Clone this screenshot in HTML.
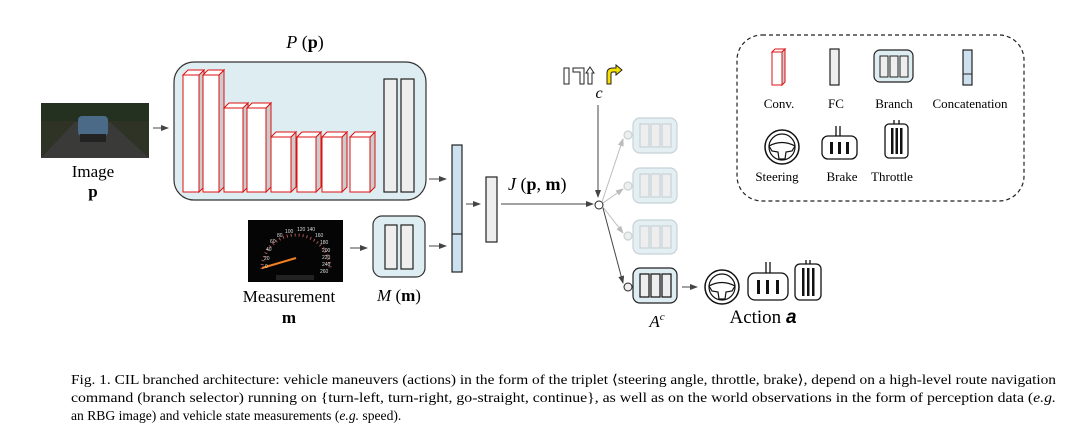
<!DOCTYPE html>
<html><head><meta charset="utf-8"><style>
html,body{margin:0;padding:0;background:#fff;}
svg{display:block;font-family:"Liberation Serif",serif;}
</style></head><body>
<svg width="1086" height="434" viewBox="0 0 1086 434" xmlns="http://www.w3.org/2000/svg">
<defs>
<marker id="ar" markerWidth="8" markerHeight="6" refX="7" refY="3" orient="auto" markerUnits="userSpaceOnUse"><path d="M0,0 L8,3 L0,6 z" fill="#444"/></marker>
<marker id="arg" markerWidth="8" markerHeight="6" refX="7" refY="3" orient="auto" markerUnits="userSpaceOnUse"><path d="M0,0 L8,3 L0,6 z" fill="#bbb"/></marker>
<g id="wheel"><circle r="17" fill="#fff" stroke="#111" stroke-width="1.5"/><circle r="13" fill="none" stroke="#111" stroke-width="1.2"/><path d="M-13,-1 Q0,-8 13,-1 L10,4 L4,5 L3,12 L-3,12 L-4,5 L-10,4 Z" fill="none" stroke="#111" stroke-width="1.2"/></g>
</defs>

<!-- Image -->
<rect x="41" y="103" width="108" height="55" fill="#2e3326"/>
<rect x="41" y="103" width="108" height="18" fill="#243020"/>
<polygon points="41,158 75,122 110,122 149,158" fill="#3a3a38"/>
<rect x="78" y="116" width="30" height="20" rx="4" fill="#4a6a88"/>
<rect x="80" y="134" width="26" height="8" fill="#222"/>
<text x="93" y="177" font-size="17" text-anchor="middle">Image</text>
<text x="93" y="197" font-size="17" font-weight="bold" text-anchor="middle">p</text>
<line x1="153" y1="128" x2="168" y2="128" stroke="#444" marker-end="url(#ar)"/>

<!-- P box -->
<text x="305" y="48" font-size="18" text-anchor="middle"><tspan font-style="italic">P</tspan> (<tspan font-weight="bold">p</tspan>)</text>
<rect x="174" y="62" width="252" height="138" rx="20" fill="#deedf2" stroke="#333" stroke-width="1.2"/>
<g stroke="#d11" stroke-width="1" fill="#fff">
<polygon points="199,75 204,70 204,187 199,192" fill="#ccc"/><polygon points="183,75 188,70 204,70 199,75"/><rect x="183" y="75" width="16" height="117"/>
<polygon points="219,75 224,70 224,187 219,192" fill="#ccc"/><polygon points="203,75 208,70 224,70 219,75"/><rect x="203" y="75" width="16" height="117"/>
<polygon points="243,108 248,103 248,187 243,192" fill="#ccc"/><polygon points="224,108 229,103 248,103 243,108"/><rect x="224" y="108" width="19" height="84"/>
<polygon points="266,108 271,103 271,187 266,192" fill="#ccc"/><polygon points="247,108 252,103 271,103 266,108"/><rect x="247" y="108" width="19" height="84"/>
<polygon points="291,137 296,132 296,187 291,192" fill="#ccc"/><polygon points="271,137 276,132 296,132 291,137"/><rect x="271" y="137" width="20" height="55"/>
<polygon points="316,137 321,132 321,187 316,192" fill="#ccc"/><polygon points="297,137 302,132 321,132 316,137"/><rect x="297" y="137" width="19" height="55"/>
<polygon points="342,137 347,132 347,187 342,192" fill="#ccc"/><polygon points="322,137 327,132 347,132 342,137"/><rect x="322" y="137" width="20" height="55"/>
<polygon points="370,137 375,132 375,187 370,192" fill="#ccc"/><polygon points="350,137 355,132 375,132 370,137"/><rect x="350" y="137" width="20" height="55"/>
</g>
<rect x="384" y="79" width="13" height="113" fill="#eee" stroke="#222" stroke-width="1.2"/>
<rect x="401" y="79" width="13" height="113" fill="#eee" stroke="#222" stroke-width="1.2"/>
<line x1="429" y1="179" x2="446" y2="179" stroke="#444" marker-end="url(#ar)"/>

<!-- Measurement -->
<rect x="248" y="220" width="95" height="62" fill="#050505"/>
<path d="M262,269 A34,34 0 1 1 330,269" fill="none" stroke="#a55" stroke-width="3" stroke-dasharray="1 3"/>
<line x1="262" y1="268" x2="296" y2="258" stroke="#f08020" stroke-width="2"/>
<g font-size="5" fill="#ddd" font-family="Liberation Sans,sans-serif"><text x="265" y="268">0</text><text x="264" y="260">20</text><text x="266" y="251">40</text><text x="270" y="243">60</text><text x="277" y="237">80</text><text x="285" y="233">100</text><text x="297" y="231">120 140</text><text x="315" y="237">160</text><text x="320" y="244">180</text><text x="322" y="252">200</text><text x="322" y="259">220</text><text x="322" y="266">240</text><text x="320" y="273">260</text></g>
<rect x="276" y="275" width="38" height="5" fill="#222"/>
<text x="289" y="302" font-size="17" text-anchor="middle">Measurement</text>
<text x="289" y="323" font-size="17" font-weight="bold" text-anchor="middle">m</text>
<line x1="350" y1="248" x2="367" y2="248" stroke="#444" marker-end="url(#ar)"/>
<rect x="373" y="216" width="52" height="61" rx="9" fill="#deedf2" stroke="#333" stroke-width="1.2"/>
<rect x="385" y="225" width="12" height="44" fill="#eee" stroke="#222" stroke-width="1.2"/>
<rect x="401" y="225" width="12" height="44" fill="#eee" stroke="#222" stroke-width="1.2"/>
<text x="399" y="301" font-size="17" text-anchor="middle"><tspan font-style="italic">M</tspan> (<tspan font-weight="bold">m</tspan>)</text>
<line x1="429" y1="246" x2="446" y2="246" stroke="#444" marker-end="url(#ar)"/>

<!-- concat -->
<rect x="452" y="145" width="10" height="127" fill="#cde0f0" stroke="#222" stroke-width="1.2"/>
<line x1="452" y1="234" x2="462" y2="234" stroke="#222" stroke-width="1.2"/>
<line x1="466" y1="204" x2="480" y2="204" stroke="#444" marker-end="url(#ar)"/>
<rect x="486" y="177" width="11" height="65" fill="#eee" stroke="#222" stroke-width="1.2"/>
<text x="508" y="190" font-size="18"><tspan font-style="italic">J</tspan> (<tspan font-weight="bold">p</tspan>, <tspan font-weight="bold">m</tspan>)</text>
<line x1="501" y1="204" x2="593" y2="204" stroke="#444" marker-end="url(#ar)"/>

<!-- command icons -->
<rect x="564" y="68" width="5" height="16" fill="#fff" stroke="#222"/>
<path d="M573,72 L580,72 L580,84 L584,84 L584,68 L573,68 Z" fill="#fff" stroke="#222"/>
<path d="M588,84 L588,73 L586,73 L590,67 L594,73 L592,73 L592,84 Z" fill="#fff" stroke="#222"/>
<path d="M607,84 L607,73 Q607,68 613,68 L616,68 L616,65 L622,70 L616,75 L616,72 L613,72 Q611,72 611,74 L611,84 Z" fill="#f5e000" stroke="#222"/>
<text x="599" y="98" font-size="16" font-style="italic" text-anchor="middle">c</text>
<line x1="598" y1="105" x2="598" y2="197" stroke="#444" marker-end="url(#ar)"/>
<circle cx="599" cy="205" r="4" fill="#fff" stroke="#222"/>

<!-- faded branches -->
<g stroke="#bbb" fill="none">
<line x1="602" y1="202" x2="623" y2="139" marker-end="url(#arg)"/>
<line x1="603" y1="203" x2="623" y2="189" marker-end="url(#arg)"/>
<line x1="603" y1="207" x2="623" y2="233" marker-end="url(#arg)"/>
</g>
<g stroke="#c8d2d6" stroke-width="1.2">
<rect x="633" y="118" width="44" height="35" rx="7" fill="#e4eff3"/>
<rect x="640" y="124" width="9" height="23" fill="#eee"/><rect x="651" y="124" width="9" height="23" fill="#eee"/><rect x="662" y="124" width="9" height="23" fill="#eee"/>
<rect x="633" y="168" width="44" height="35" rx="7" fill="#e4eff3"/>
<rect x="640" y="174" width="9" height="23" fill="#eee"/><rect x="651" y="174" width="9" height="23" fill="#eee"/><rect x="662" y="174" width="9" height="23" fill="#eee"/>
<rect x="633" y="220" width="44" height="34" rx="7" fill="#e4eff3"/>
<rect x="640" y="226" width="9" height="22" fill="#eee"/><rect x="651" y="226" width="9" height="22" fill="#eee"/><rect x="662" y="226" width="9" height="22" fill="#eee"/>
<circle cx="628" cy="135" r="4" fill="#eee"/><circle cx="628" cy="186" r="4" fill="#eee"/><circle cx="628" cy="236" r="4" fill="#eee"/>
</g>
<line x1="603" y1="208" x2="623" y2="283" stroke="#444" marker-end="url(#ar)"/>
<rect x="633" y="268" width="44" height="35" rx="7" fill="#deedf2" stroke="#222" stroke-width="1.2"/>
<rect x="640" y="274" width="9" height="23" fill="#eee" stroke="#111" stroke-width="1.2"/><rect x="651" y="274" width="9" height="23" fill="#eee" stroke="#111" stroke-width="1.2"/><rect x="662" y="274" width="9" height="23" fill="#eee" stroke="#111" stroke-width="1.2"/>
<circle cx="628" cy="287" r="4" fill="#eee" stroke="#222"/>
<text x="657" y="327" font-size="17" font-style="italic" text-anchor="middle">A<tspan font-size="11" dy="-7">c</tspan></text>
<line x1="682" y1="287" x2="697" y2="287" stroke="#444" marker-end="url(#ar)"/>

<!-- action icons -->
<use href="#wheel" x="722" y="287"/>
<g stroke="#111" stroke-width="1.3" fill="#fff">
<line x1="766" y1="262" x2="766" y2="273"/><line x1="770" y1="262" x2="770" y2="273"/>
<rect x="748" y="273" width="40" height="27" rx="7"/>
<rect x="795" y="264" width="26" height="36" rx="5"/>
<line x1="806" y1="260" x2="806" y2="264"/><line x1="810" y1="260" x2="810" y2="264"/>
</g>
<g fill="#111"><rect x="757" y="280" width="3" height="14"/><rect x="766" y="280" width="3" height="14"/><rect x="776" y="280" width="3" height="14"/>
<rect x="802" y="268" width="2.5" height="28"/><rect x="807" y="268" width="2.5" height="28"/><rect x="812" y="268" width="2.5" height="28"/></g>
<text x="763" y="323" font-size="19" text-anchor="middle">Action <tspan font-weight="bold" font-style="italic" font-family="Liberation Sans,sans-serif">a</tspan></text>

<!-- legend -->
<rect x="737" y="35" width="287" height="166" rx="25" fill="none" stroke="#222" stroke-width="1.2" stroke-dasharray="4 3"/>
<g stroke="#d11" fill="#fff" stroke-width="1"><polygon points="782,52 785,49 785,82 782,85" fill="#ccc"/><polygon points="772,52 775,49 785,49 782,52"/><rect x="772" y="52" width="10" height="33"/></g>
<rect x="830" y="49" width="9" height="36" fill="#eee" stroke="#222" stroke-width="1.2"/>
<rect x="874" y="50" width="39" height="32" rx="6" fill="#deedf2" stroke="#222" stroke-width="1.2"/>
<rect x="880" y="56" width="8" height="21" fill="#eee" stroke="#222"/><rect x="890" y="56" width="8" height="21" fill="#eee" stroke="#222"/><rect x="900" y="56" width="8" height="21" fill="#eee" stroke="#222"/>
<rect x="963" y="50" width="9" height="35" fill="#cde0f0" stroke="#222" stroke-width="1.2"/><line x1="963" y1="74" x2="972" y2="74" stroke="#222"/>
<g font-size="13" text-anchor="middle"><text x="779" y="108">Conv.</text><text x="836" y="108">FC</text><text x="894" y="108">Branch</text><text x="970" y="108">Concatenation</text>
<text x="777" y="181">Steering</text><text x="842" y="181">Brake</text><text x="892" y="181">Throttle</text></g>
<use href="#wheel" x="782" y="147"/>
<g stroke="#111" stroke-width="1.3" fill="#fff">
<line x1="836" y1="126" x2="836" y2="136"/><line x1="840" y1="126" x2="840" y2="136"/>
<rect x="822" y="136" width="35" height="23" rx="6"/>
<rect x="885" y="124" width="23" height="34" rx="4"/>
<line x1="894" y1="120" x2="894" y2="124"/><line x1="899" y1="120" x2="899" y2="124"/>
</g>
<g fill="#111"><rect x="830" y="142" width="3" height="12"/><rect x="838" y="142" width="3" height="12"/><rect x="846" y="142" width="3" height="12"/>
<rect x="891" y="128" width="2.5" height="26"/><rect x="895.5" y="128" width="2.5" height="26"/><rect x="900" y="128" width="2.5" height="26"/></g>

<!-- caption -->
<g font-size="13.6">
<text x="71" y="384" textLength="985" lengthAdjust="spacingAndGlyphs">Fig. 1.  CIL branched architecture: vehicle maneuvers (actions) in the form of the triplet ⟨steering angle, throttle, brake⟩, depend on a high-level route navigation</text>
<text x="71" y="402" textLength="985" lengthAdjust="spacingAndGlyphs">command (branch selector) running on {turn-left, turn-right, go-straight, continue}, as well as on the world observations in the form of perception data (<tspan font-style="italic">e.g.</tspan></text>
<text x="71" y="420">an RBG image) and vehicle state measurements (<tspan font-style="italic">e.g.</tspan> speed).</text>
</g>
</svg>
</body></html>
